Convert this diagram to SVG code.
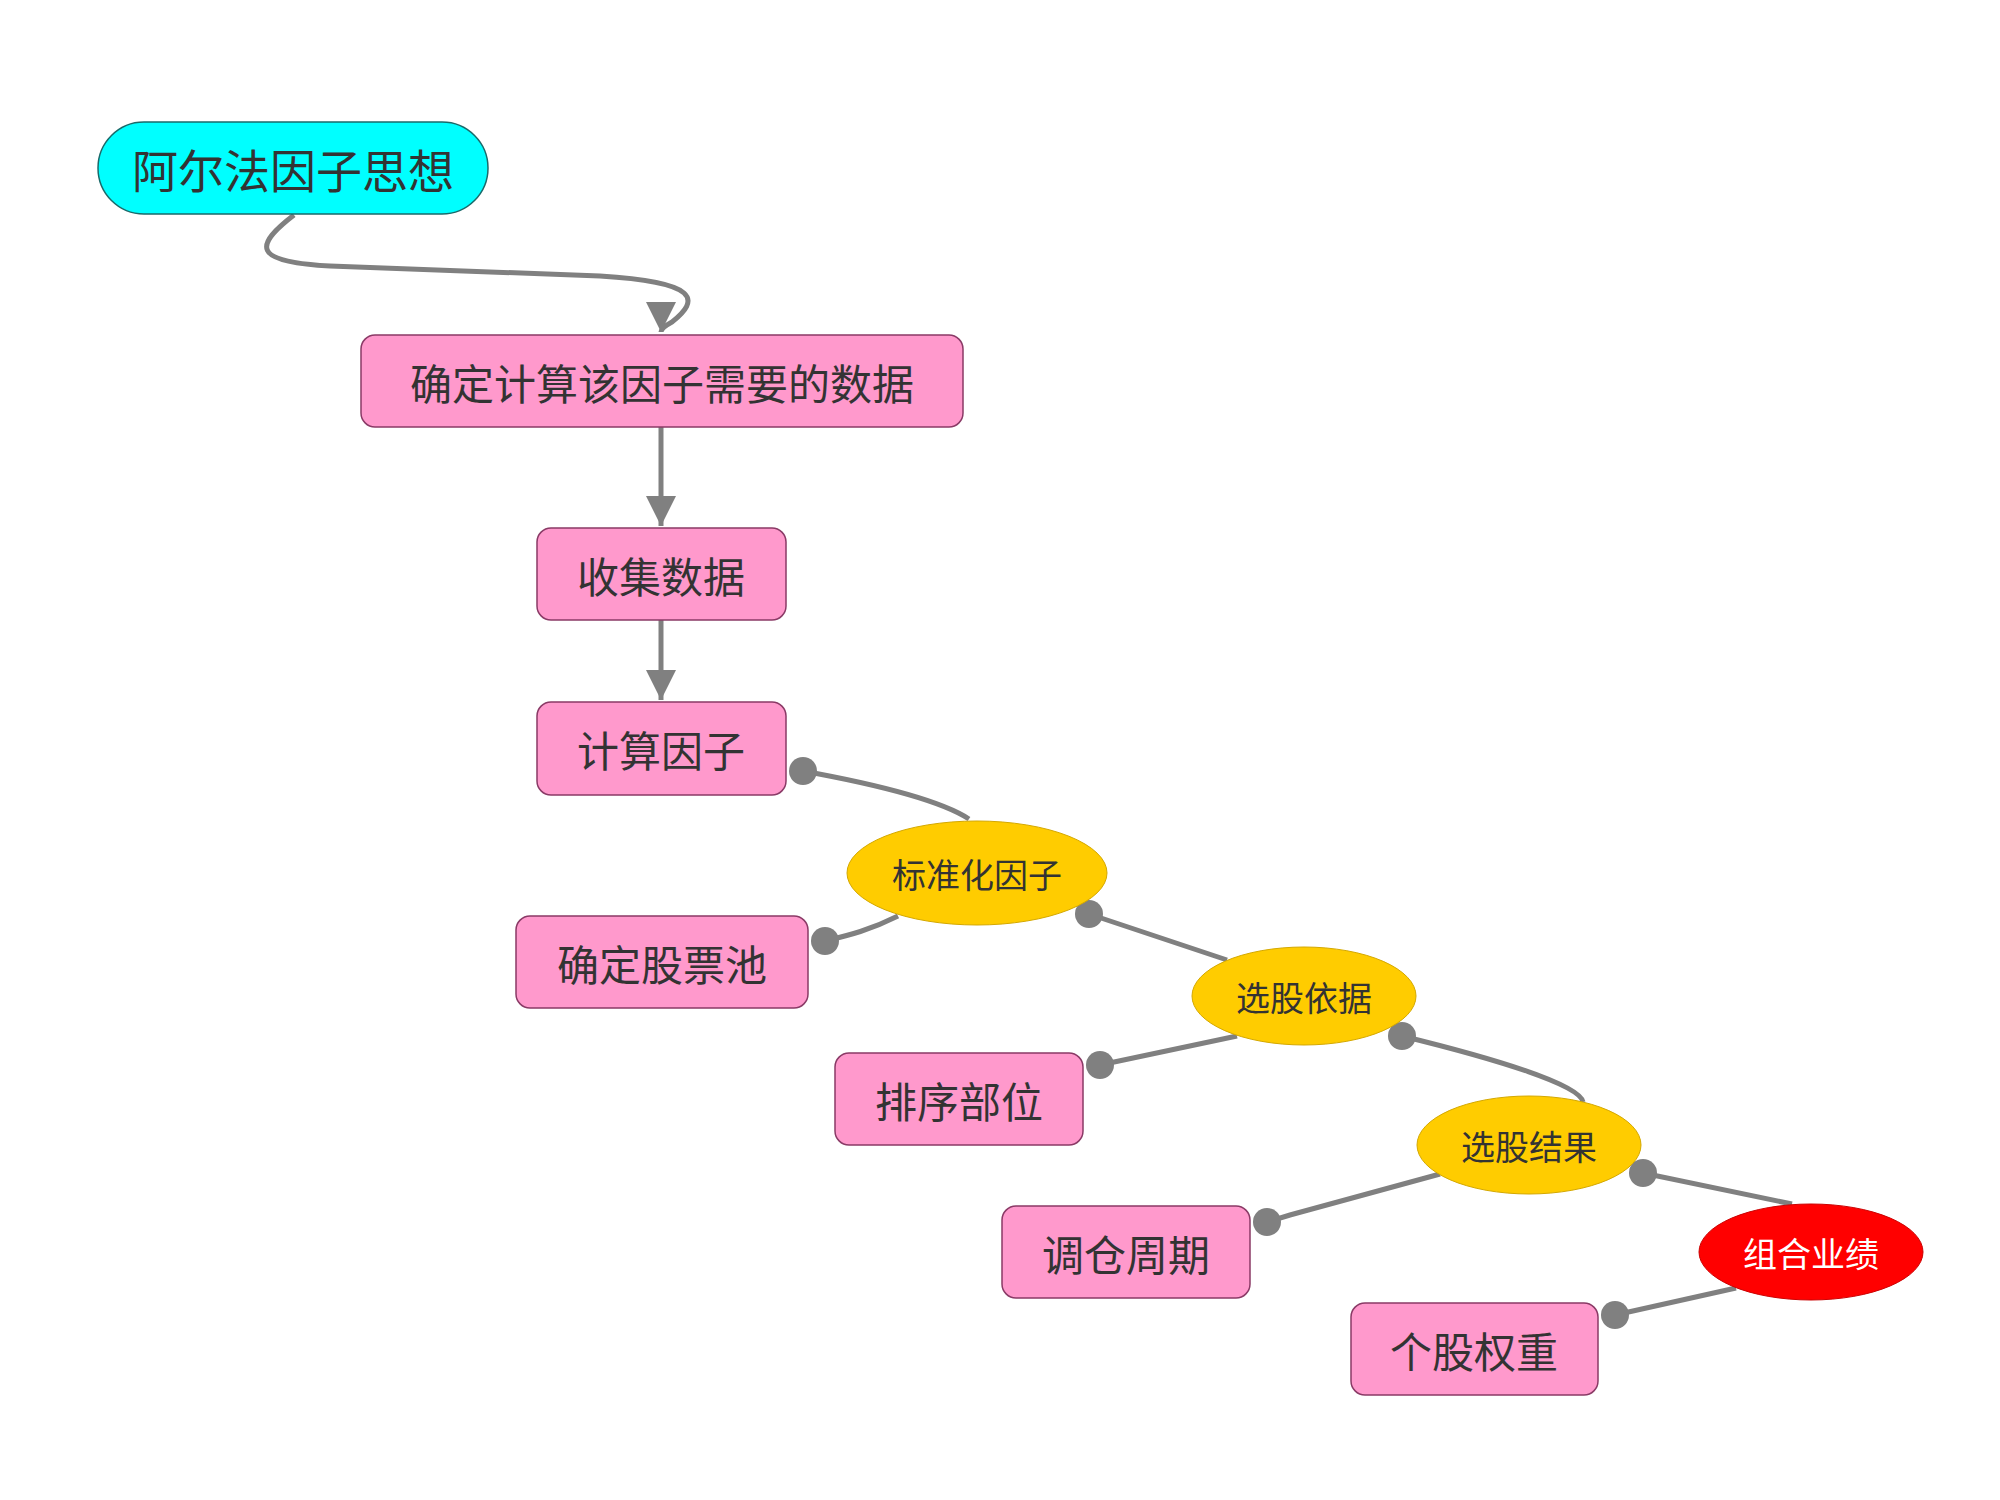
<svg xmlns="http://www.w3.org/2000/svg" width="2000" height="1500" viewBox="0 0 2000 1500">
<style>
.box{fill:#ff99cc;stroke:#8a3a66;stroke-width:1.5}
.ell{fill:#ffcc00;stroke:#d4a800;stroke-width:1}
.t{font-family:"Noto Sans CJK SC",sans-serif;fill:#333;text-anchor:middle;dominant-baseline:central}
.big{font-size:42px}
.sm{font-size:34px}
.c{fill:none;stroke:#808080;stroke-width:5}
.dot{fill:#808080}
</style>
<defs>
<marker id="ar" markerWidth="10" markerHeight="10" refX="9" refY="5" orient="auto" markerUnits="userSpaceOnUse" viewBox="0 0 10 10">
</marker>
<marker id="a" viewBox="0 0 10 10" refX="10" refY="5" markerWidth="6" markerHeight="6" orient="auto"><path d="M0,0L10,5L0,10z" fill="#808080"/></marker>
</defs>
<g id="connectors">
<path class="c" d="M294,215 C255,245 250,262 330,266 L600,276 C700,282 700,300 672,322 Q661,328 661,332" marker-end="url(#a)"/>
<path class="c" d="M661,427 L661,526" marker-end="url(#a)"/>
<path class="c" d="M661,620 L661,700" marker-end="url(#a)"/>
<path class="c" d="M803,771 C880,785 940,800 969,819"/>
<path class="c" d="M898,916 C870,930 850,935 825,941"/>
<path class="c" d="M1089,914 L1227,960"/>
<path class="c" d="M1237,1036 L1100,1065"/>
<path class="c" d="M1402,1036 C1500,1060 1580,1085 1583,1102"/>
<path class="c" d="M1440,1174 L1290,1215 L1267,1222"/>
<path class="c" d="M1643,1173 L1792,1204"/>
<path class="c" d="M1736,1288 L1615,1315"/>
<circle class="dot" cx="803" cy="771" r="14"/>
<circle class="dot" cx="825" cy="941" r="14"/>
<circle class="dot" cx="1089" cy="914" r="14"/>
<circle class="dot" cx="1100" cy="1065" r="14"/>
<circle class="dot" cx="1402" cy="1036" r="14"/>
<circle class="dot" cx="1267" cy="1222" r="14"/>
<circle class="dot" cx="1643" cy="1173" r="14"/>
<circle class="dot" cx="1615" cy="1315" r="14"/>
</g>
<g id="n1"><rect x="98" y="122" width="390" height="92" rx="46" fill="#00ffff" stroke="#1a6a6a" stroke-width="1.5"/><text class="t" x="293" y="168" font-size="46">阿尔法因子思想</text></g>
<g id="n2"><rect class="box" x="361" y="335" width="602" height="92" rx="14"/><text class="t big" x="662" y="381">确定计算该因子需要的数据</text></g>
<g id="n3"><rect class="box" x="537" y="528" width="249" height="92" rx="14"/><text class="t big" x="661" y="574">收集数据</text></g>
<g id="n4"><rect class="box" x="537" y="702" width="249" height="93" rx="14"/><text class="t big" x="661" y="748">计算因子</text></g>
<g id="n5"><ellipse class="ell" cx="977" cy="873" rx="130" ry="52"/><text class="t sm" x="977" y="873">标准化因子</text></g>
<g id="n6"><rect class="box" x="516" y="916" width="292" height="92" rx="14"/><text class="t big" x="662" y="962">确定股票池</text></g>
<g id="n7"><ellipse class="ell" cx="1304" cy="996" rx="112" ry="49"/><text class="t sm" x="1304" y="996">选股依据</text></g>
<g id="n8"><rect class="box" x="835" y="1053" width="248" height="92" rx="14"/><text class="t big" x="959" y="1099">排序部位</text></g>
<g id="n9"><ellipse class="ell" cx="1529" cy="1145" rx="112" ry="49"/><text class="t sm" x="1529" y="1145">选股结果</text></g>
<g id="n10"><rect class="box" x="1002" y="1206" width="248" height="92" rx="14"/><text class="t big" x="1126" y="1252">调仓周期</text></g>
<g id="n11"><ellipse cx="1811" cy="1252" rx="112" ry="48" fill="#ff0000" stroke="#cc0000"/><text class="t sm" x="1811" y="1252" style="fill:#fff">组合业绩</text></g>
<g id="n12"><rect class="box" x="1351" y="1303" width="247" height="92" rx="14"/><text class="t big" x="1474" y="1349">个股权重</text></g>
</svg>
